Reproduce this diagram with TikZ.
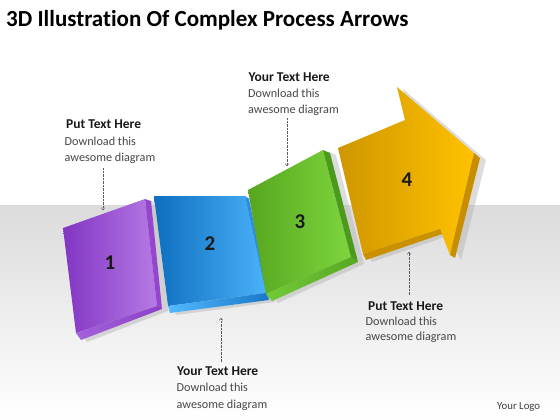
\documentclass[tikz,border=0pt]{standalone}
\usepackage{fontspec}
\setmainfont{Carlito}[Ligatures=NoCommon]
\usetikzlibrary{arrows.meta}
\definecolor{purL}{HTML}{8236C4}
\definecolor{purR}{HTML}{B67AE4}
\definecolor{purS}{HTML}{9446CE}
\definecolor{purB1}{HTML}{A462DC}
\definecolor{purB2}{HTML}{8A40C6}
\definecolor{bluL}{HTML}{0E6EC0}
\definecolor{bluR}{HTML}{4AB2F8}
\definecolor{bluS}{HTML}{2A8EE0}
\definecolor{bluB1}{HTML}{52BAFF}
\definecolor{bluB2}{HTML}{1878C8}
\definecolor{grnL}{HTML}{56A61E}
\definecolor{grnR}{HTML}{7ED63E}
\definecolor{grnS}{HTML}{4C9A1C}
\definecolor{grnB1}{HTML}{72CA38}
\definecolor{grnB2}{HTML}{58A822}
\definecolor{orgL}{HTML}{CF9600}
\definecolor{orgR}{HTML}{FFC200}
\definecolor{orgS}{HTML}{C88E00}
\definecolor{orgB}{HTML}{C99000}
\begin{document}
\begin{tikzpicture}[x=1pt,y=-1pt,
  head/.style={font=\fontsize{13.5}{16}\selectfont\bfseries, text=black!90, anchor=base west, inner sep=0},
  body/.style={font=\fontsize{12.2}{15}\selectfont, text=black!72, anchor=base west, inner sep=0},
  pointer/.style={draw=black!65, line width=0.5pt, dash pattern=on 0.7pt off 0.7pt, -{To[length=2.5pt,width=4pt]}},
  num/.style={font=\fontsize{21}{21}\selectfont\bfseries, text=black!90, inner sep=0},
  shade3d/.style={fill=black!30, opacity=0.45}
]
\useasboundingbox (0,0) rectangle (560,420);
\fill[white] (0,0) rectangle (560,420);
\shade[top color=gray!28, bottom color=white] (0,205) rectangle (560,420);

\node[font=\fontsize{23}{23}\selectfont\bfseries, anchor=base west, inner sep=0] (title) at (6,26.7) {3D Illustration Of Complex Process Arrows};

% shadows
\fill[shade3d, shift={(6,2)}] (63,228)--(145,199)--(151,201)--(162,309)--(81,340)--(76,333)--cycle;
\fill[shade3d, shift={(6,2)}] (154,196)--(245,196)--(249,199)--(269,300)--(170,313)--(168,306)--cycle;
\fill[shade3d, shift={(6,2)}] (248,190)--(323,150)--(330,153)--(358,262)--(272,301)--(266,294)--cycle;
\fill[shade3d, shift={(6,2)}] (338,148)--(405,120)--(397,87)--(474,153)--(480,158)--(455,258)--(442,234)--(366,260)--(363,254)--cycle;

% panel 1 (purple)
\shade[left color=purL, right color=purR] (63,228)--(145,199)--(157,306)--(76,333)--cycle;
\fill[purS] (145,199)--(151,201)--(162,309)--(157,306)--cycle;
\shade[left color=purB1, right color=purB2] (76,333)--(157,306)--(162,309)--(81,340)--cycle;

% panel 2 (blue)
\shade[left color=bluL, right color=bluR] (154,196)--(245,196)--(266,293)--(168,306)--cycle;
\fill[bluS] (245,196)--(249,199)--(269,300)--(266,293)--cycle;
\shade[left color=bluB1, right color=bluB2] (168,306)--(266,293)--(269,300)--(170,313)--cycle;

% panel 3 (green)
\shade[left color=grnL, right color=grnR] (248,190)--(323,150)--(351,257)--(266,294)--cycle;
\fill[grnS] (323,150)--(330,153)--(358,262)--(351,257)--cycle;
\shade[left color=grnB1, right color=grnB2] (266,294)--(351,257)--(358,262)--(272,301)--cycle;

% panel 4 (orange arrow)
\shade[left color=orgL, right color=orgR] (338,148)--(405,120)--(397,87)--(474,153)--(450,255)--(440,229)--(363,254)--cycle;
\fill[orgS] (474,153)--(480,158)--(455,258)--(450,255)--cycle;
\fill[orgB] (363,254)--(440,229)--(442,234)--(366,260)--cycle;

% numbers
\node[num] (n1) at (110,263) {1};
\node[num] (n2) at (210,244) {2};
\node[num] (n3) at (300,222) {3};
\node[num] (n4) at (407,180) {4};

% annotation 1
\node[head] (h1) at (66,128.3) {Put Text Here};
\node[body] (b1a) at (64.5,145.7) {Download this};
\node[body] (b1b) at (64.5,161) {awesome diagram};
\coordinate (p1s) at (103,168);
\coordinate (p1e) at (103,210);
\draw[pointer] (p1s) -- (p1e);

% annotation 2
\node[head] (h2) at (248.5,81.7) {Your Text Here};
\node[body] (b2a) at (248,97.3) {Download this};
\node[body] (b2b) at (248,113.3) {awesome diagram};
\coordinate (p2s) at (287,118);
\coordinate (p2e) at (287,166);
\draw[pointer] (p2s) -- (p2e);

% annotation 3
\node[head] (h3) at (177,375.7) {Your Text Here};
\node[body] (b3a) at (176.5,391.7) {Download this};
\node[body] (b3b) at (176.5,408) {awesome diagram};
\coordinate (p3s) at (221,362);
\coordinate (p3e) at (221,318);
\draw[pointer] (p3s) -- (p3e);

% annotation 4
\node[head] (h4) at (368,310) {Put Text Here};
\node[body] (b4a) at (365.5,325.5) {Download this};
\node[body] (b4b) at (365.5,340.5) {awesome diagram};
\coordinate (p4s) at (409,295);
\coordinate (p4e) at (409,252);
\draw[pointer] (p4s) -- (p4e);

\node[font=\fontsize{10.8}{12}\selectfont, text=black!75, anchor=base west, inner sep=0] (logo) at (497,409) {Your Logo};
\end{tikzpicture}
\end{document}
